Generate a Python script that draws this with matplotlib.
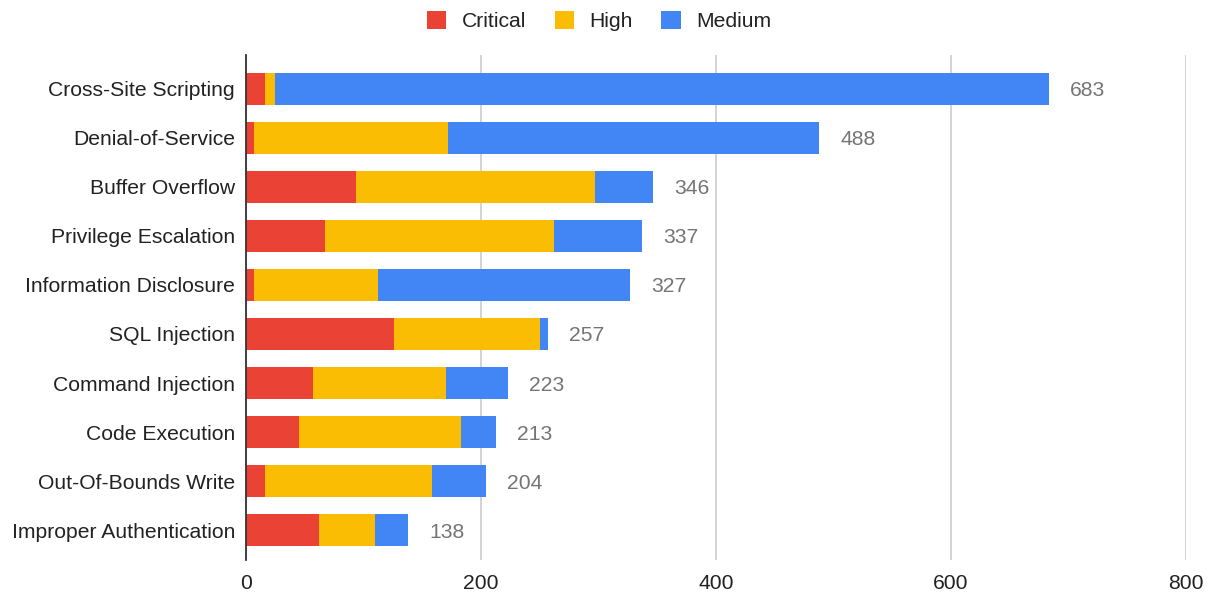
import matplotlib
matplotlib.use("Agg")
import matplotlib.pyplot as plt
from matplotlib.patches import Patch

categories = ["Cross-Site Scripting", "Denial-of-Service", "Buffer Overflow",
              "Privilege Escalation", "Information Disclosure", "SQL Injection",
              "Command Injection", "Code Execution", "Out-Of-Bounds Write",
              "Improper Authentication"]
critical = [16, 7, 94, 67, 7, 126, 57, 45, 16, 62]
high = [9, 165, 203, 195, 105, 124, 113, 138, 142, 48]
medium = [658, 316, 49, 75, 215, 7, 53, 30, 46, 28]
series_names = ["Critical", "High", "Medium"]
colors = ["#EA4335", "#FBBC04", "#4285F4"]
xticks = [0, 200, 400, 600, 800]

plt.rcParams['font.family'] = ['Liberation Sans', 'DejaVu Sans']
FS = 15.2

fig = plt.figure(figsize=(12.18, 5.93), dpi=100)
ax = fig.add_axes([246/1218, 1-560/593, (1186-246)/1218, (560-55)/593])

y = list(range(len(categories)))
h = 0.64
left = [0]*len(categories)
for vals, c in zip([critical, high, medium], colors):
    ax.barh(y, vals, left=left, height=h, color=c, edgecolor='none', zorder=3)
    left = [l + v for l, v in zip(left, vals)]

totals = left
for yi, t in zip(y, totals):
    ax.text(t + 18, yi, str(t), va='center_baseline', ha='left', fontsize=FS, color='#757575')

ax.set_xlim(0, 800)
ax.set_ylim(9.61, -0.69)
ax.set_yticks(y)
ax.set_yticklabels(categories, fontsize=FS, color='#222222')
ax.set_xticks(xticks)
ax.set_xticklabels([str(v) for v in xticks], fontsize=FS, color='#222222')
ax.tick_params(axis='x', length=0, pad=10)
ax.tick_params(axis='y', length=0, pad=8)
for lbl in ax.get_yticklabels():
    lbl.set_verticalalignment('center_baseline')
ax.grid(axis='x', color='#CCCCCC', linewidth=1.2, zorder=0)
for s in ['top', 'right', 'bottom']:
    ax.spines[s].set_visible(False)
ax.spines['left'].set_color('#333333')
ax.spines['left'].set_linewidth(1.3)
ax.spines['left'].set_zorder(4)

handles = [Patch(facecolor=c, edgecolor='none') for c in colors]
fig.legend(handles, series_names, loc='center', bbox_to_anchor=(599/1218, 1-21/593),
           ncol=3, frameon=False, fontsize=FS, handlelength=0.92, handleheight=0.92,
           columnspacing=1.37, handletextpad=0.71, labelcolor='#222222')

fig.savefig("out.png", dpi=100)
